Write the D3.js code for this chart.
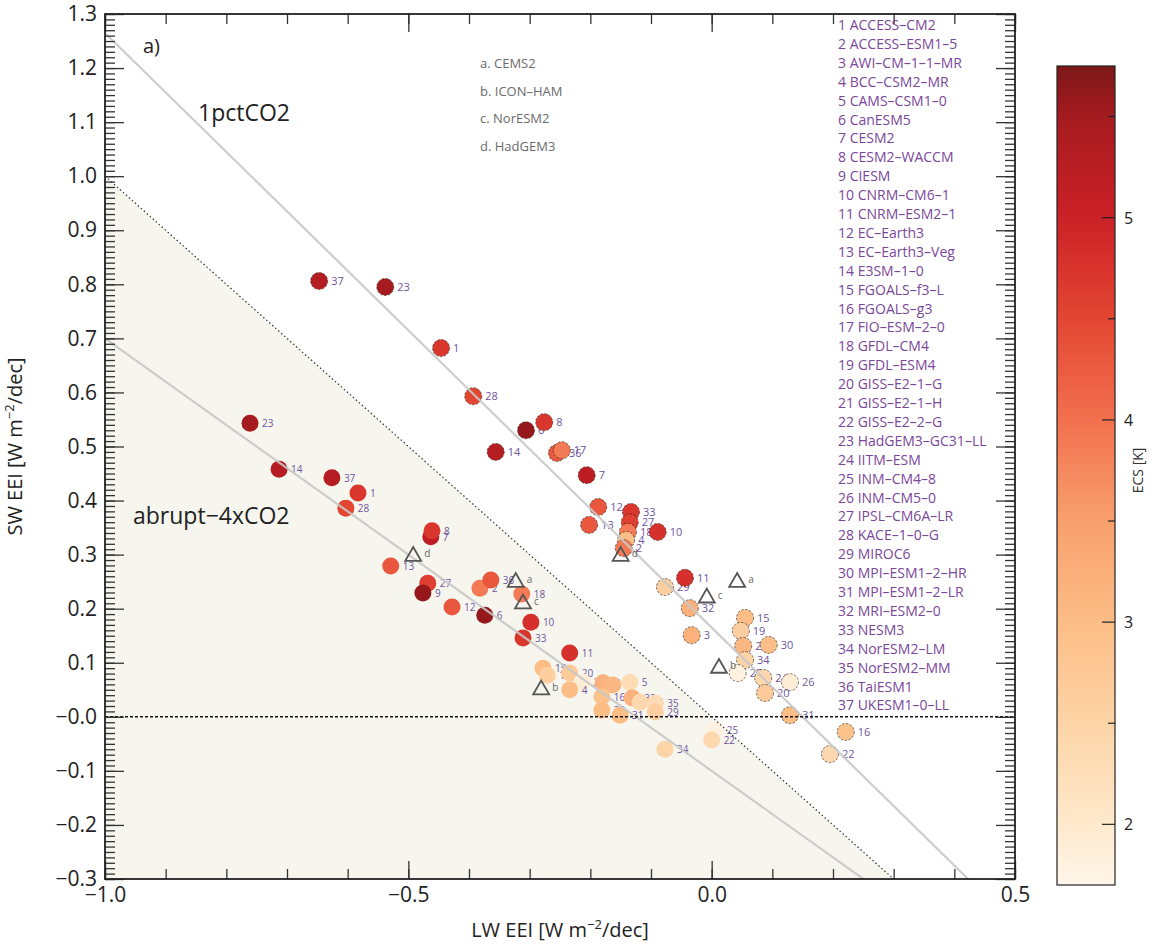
<!DOCTYPE html>
<html>
<head>
<meta charset="utf-8">
<script src="https://cdn.jsdelivr.net/npm/d3@7"></script>
<style>
body{margin:0;background:#fff}
text{font-family:"Open Sans",sans-serif}
</style>
</head>
<body>
<svg id="chart" width="1155" height="944"></svg>
<script>
// model names and ECS (K)
var models=["ACCESS–CM2","ACCESS–ESM1–5","AWI–CM–1–1–MR","BCC–CSM2–MR","CAMS–CSM1–0","CanESM5","CESM2","CESM2–WACCM","CIESM","CNRM–CM6–1","CNRM–ESM2–1","EC–Earth3","EC–Earth3–Veg","E3SM–1–0","FGOALS–f3–L","FGOALS–g3","FIO–ESM–2–0","GFDL–CM4","GFDL–ESM4","GISS–E2–1–G","GISS–E2–1–H","GISS–E2–2–G","HadGEM3–GC31–LL","IITM–ESM","INM–CM4–8","INM–CM5–0","IPSL–CM6A–LR","KACE–1–0–G","MIROC6","MPI–ESM1–2–HR","MPI–ESM1–2–LR","MRI–ESM2–0","NESM3","NorESM2–LM","NorESM2–MM","TaiESM1","UKESM1–0–LL"];
var ecs=[4.7,3.9,3.2,3.0,2.3,5.6,5.2,4.7,5.6,4.8,4.8,4.3,4.3,5.3,3.0,2.9,3.9,3.9,2.6,2.7,3.1,2.4,5.5,2.4,1.8,1.9,4.6,4.5,2.6,3.0,3.0,3.2,4.7,2.5,2.3,4.3,5.3];

// 1pctCO2 points
var pctId=[37,23,1,28,6,8,14,36,17,7,12,13,33,27,18,4,2,10,29,11,32,3,15,19,21,30,34,25,24,26,20,31,16,22];
var pctLW=[-0.647,-0.538,-0.446,-0.393,-0.306,-0.276,-0.356,-0.255,-0.247,-0.206,-0.187,-0.202,-0.133,-0.135,-0.138,-0.141,-0.145,-0.089,-0.077,-0.044,-0.036,-0.033,0.055,0.048,0.052,0.094,0.055,0.043,0.085,0.129,0.088,0.129,0.221,0.195];
var pctSW=[0.806,0.795,0.682,0.593,0.530,0.545,0.490,0.488,0.493,0.447,0.388,0.355,0.379,0.360,0.342,0.327,0.312,0.342,0.240,0.257,0.201,0.151,0.183,0.159,0.131,0.133,0.105,0.081,0.072,0.064,0.044,0.003,-0.028,-0.069];

// abrupt-4xCO2 points
var abrId=[23,14,37,1,28,13,7,8,27,9,12,2,36,6,18,10,33,11,15,19,20,26,4,3,21,5,16,30,31,32,24,35,29,34,25,22];
var abrLW=[-0.761,-0.713,-0.626,-0.583,-0.603,-0.529,-0.463,-0.461,-0.468,-0.476,-0.428,-0.382,-0.364,-0.374,-0.313,-0.298,-0.311,-0.234,-0.278,-0.271,-0.234,-0.214,-0.234,-0.179,-0.163,-0.135,-0.181,-0.181,-0.151,-0.131,-0.118,-0.093,-0.093,-0.077,0.005,0.000];
var abrSW=[0.543,0.458,0.442,0.414,0.386,0.279,0.333,0.344,0.247,0.229,0.203,0.238,0.253,0.188,0.227,0.175,0.146,0.118,0.090,0.077,0.081,0.064,0.050,0.063,0.059,0.064,0.037,0.012,0.003,0.035,0.027,0.025,0.009,-0.060,-0.024,-0.043];

// other models (triangles)
var otherTag=["a","b","c","d"];
var otherName=["CEMS2","ICON–HAM","NorESM2","HadGEM3"];
var pctOtherLW=[0.042,0.012,-0.008,-0.150];
var pctOtherSW=[0.249,0.090,0.220,0.297];
var abrOtherLW=[-0.323,-0.281,-0.311,-0.492];
var abrOtherSW=[0.249,0.050,0.209,0.297];

// fitted lines SW = a + b*LW
var fitA=[0.165,-0.10];
var fitB=[-1.10,-0.80];

var xTicks=[-1.0,-0.5,0.0,0.5];
var yTicks=d3.range(-3,14).map(function(i){return i/10;});
var cbTicks=[2,3,4,5];

var W=1155,H=944;
var mL=105,mR=1015,mT=14,mB=879;
var x=d3.scaleLinear().domain([-1,0.5]).range([mL,mR]);
var y=d3.scaleLinear().domain([-0.3,1.3]).range([mB,mT]);

var color=d3.scaleLinear()
    .domain([1.7,2.0,2.5,3.0,3.5,4.0,4.5,5.0,5.5,5.75])
    .range(["#fff6ea","#fee9cc","#fdd4a6","#fcbd86","#f8a06d","#f2704f","#e34732","#cb2027","#a61b1f","#7c1718"])
    .clamp(true);

var svg=d3.select("#chart");
svg.append("rect").attr("width",W).attr("height",H).attr("fill","#fff");

var defs=svg.append("defs");
defs.append("clipPath").attr("id","plotclip").append("rect")
    .attr("x",mL).attr("y",mT).attr("width",mR-mL).attr("height",mB-mT);

var plot=svg.append("g").attr("clip-path","url(#plotclip)");

// shaded area below SW = -LW
var line=d3.line().x(function(d){return x(d[0]);}).y(function(d){return y(d[1]);});
plot.append("path")
    .attr("d",line([[-1,1],[0.3,-0.3],[-1,-0.3]])+"Z")
    .attr("fill","#f6f6ef");

// points
function drawPoints(ids,lw,sw,fs,outlined){
    var g=plot.append("g");
    ids.forEach(function(id,i){
        var c=g.append("circle")
            .attr("cx",x(lw[i])).attr("cy",y(sw[i])).attr("r",8.5)
            .attr("fill",color(ecs[id-1]));
        if(outlined){
            c.attr("stroke","#2a1e18").attr("stroke-width",0.8)
             .attr("stroke-dasharray","2.5,1.5").attr("stroke-opacity",0.75);
        }
        g.append("text")
            .attr("x",x(lw[i])+12).attr("y",y(sw[i])+4)
            .attr("font-size",fs).attr("fill","#6e55a0")
            .text(id);
    });
}
drawPoints(abrId,abrLW,abrSW,10,false);
drawPoints(pctId,pctLW,pctSW,11,true);

// gray fit lines
fitA.forEach(function(a,k){
    plot.append("path")
        .attr("d",line([[-1,a-fitB[k]],[0.5,a+fitB[k]*0.5]]))
        .attr("stroke","#c8c8c8").attr("stroke-width",2.2).attr("stroke-opacity",0.9)
        .attr("fill","none");
});

// triangles
var tri=d3.symbol().type(d3.symbolTriangle).size(110);
function drawOthers(lw,sw){
    otherTag.forEach(function(t,i){
        plot.append("path").attr("d",tri())
            .attr("transform","translate("+x(lw[i])+","+y(sw[i])+")")
            .attr("fill","none").attr("stroke","#555").attr("stroke-width",1.8);
        plot.append("text")
            .attr("x",x(lw[i])+11).attr("y",y(sw[i])+1)
            .attr("font-size",10).attr("fill","#666").text(t);
    });
}
drawOthers(abrOtherLW,abrOtherSW);
drawOthers(pctOtherLW,pctOtherSW);

// zero line and SW=-LW line
plot.append("line")
    .attr("x1",mL).attr("x2",mR).attr("y1",y(0)).attr("y2",y(0))
    .attr("stroke","#111").attr("stroke-width",1.6).attr("stroke-dasharray","3,2");
plot.append("path")
    .attr("d",line([[-1,1],[0.5,-0.5]]))
    .attr("stroke","#333").attr("stroke-width",1.2).attr("stroke-dasharray","1.5,2.5")
    .attr("fill","none");

// axes
function fmt(d){
    if(Math.abs(d)<1e-9) return null;
    return (d<0?"−":"")+Math.abs(d).toFixed(1);
}
var yFmt=function(d){var s=fmt(d);return s===null?"−0.0":s;};
var xFmt=function(d){var s=fmt(d);return s===null?"0.0":s;};
var yMinor=d3.range(-30,131).map(function(i){return i/100;});
var xMinor=d3.range(-10,6).map(function(i){return i/10;});

function styleAxis(g){
    g.select(".domain").remove();
    g.selectAll("line").attr("stroke","#333").attr("stroke-width",1.3);
    g.selectAll("text").attr("font-family","Open Sans").attr("font-size",21).attr("fill","#222");
}

svg.append("g").attr("transform","translate("+mL+",0)")
    .call(d3.axisLeft(y).tickValues(yMinor).tickSizeInner(-10).tickSizeOuter(0).tickFormat(""))
    .call(styleAxis);
svg.append("g").attr("transform","translate("+mL+",0)")
    .call(d3.axisLeft(y).tickValues(yTicks).tickSizeInner(-19).tickSizeOuter(0).tickPadding(8).tickFormat(yFmt))
    .call(styleAxis);
svg.append("g").attr("transform","translate("+mR+",0)")
    .call(d3.axisRight(y).tickValues(yMinor).tickSizeInner(-10).tickSizeOuter(0).tickFormat(""))
    .call(styleAxis);
svg.append("g").attr("transform","translate("+mR+",0)")
    .call(d3.axisRight(y).tickValues(yTicks).tickSizeInner(-19).tickSizeOuter(0).tickFormat(""))
    .call(styleAxis);
svg.append("g").attr("transform","translate(0,"+mB+")")
    .call(d3.axisBottom(x).tickValues(xMinor).tickSizeInner(-10).tickSizeOuter(0).tickFormat(""))
    .call(styleAxis);
svg.append("g").attr("transform","translate(0,"+mB+")")
    .call(d3.axisBottom(x).tickValues(xTicks).tickSizeInner(-18).tickSizeOuter(0).tickPadding(8).tickFormat(xFmt))
    .call(styleAxis);
svg.append("g").attr("transform","translate(0,"+mT+")")
    .call(d3.axisTop(x).tickValues(xMinor).tickSizeInner(-10).tickSizeOuter(0).tickFormat(""))
    .call(styleAxis);
svg.append("g").attr("transform","translate(0,"+mT+")")
    .call(d3.axisTop(x).tickValues(xTicks).tickSizeInner(-18).tickSizeOuter(0).tickFormat(""))
    .call(styleAxis);

svg.append("rect")
    .attr("x",mL).attr("y",mT).attr("width",mR-mL).attr("height",mB-mT)
    .attr("fill","none").attr("stroke","#222").attr("stroke-width",1.8);

// axis titles
var xt=svg.append("text").attr("x",(mL+mR)/2).attr("y",937)
    .attr("text-anchor","middle").attr("font-size",20).attr("fill","#222");
xt.append("tspan").text("LW EEI [W m");
xt.append("tspan").attr("dy",-8).attr("font-size",13).text("−2");
xt.append("tspan").attr("dy",8).text("/dec]");

var yt=svg.append("text").attr("transform","translate(22,"+((mT+mB)/2)+") rotate(-90)")
    .attr("text-anchor","middle").attr("font-size",20).attr("fill","#222");
yt.append("tspan").text("SW EEI [W m");
yt.append("tspan").attr("dy",-8).attr("font-size",13).text("−2");
yt.append("tspan").attr("dy",8).text("/dec]");

// annotations
svg.append("text").attr("x",143).attr("y",53).attr("font-size",20).attr("fill","#222").text("a)");
svg.append("text").attr("x",198).attr("y",121).attr("font-size",23).attr("fill","#222").text("1pctCO2");
svg.append("text").attr("x",133).attr("y",524).attr("font-size",23).attr("fill","#222").text("abrupt−4xCO2");

// legend for other models
otherTag.forEach(function(t,i){
    svg.append("text").attr("x",480).attr("y",68+i*27.5)
        .attr("font-size",13).attr("fill","#6b6b6b")
        .text(t+". "+otherName[i]);
});

// model list
models.forEach(function(m,i){
    svg.append("text").attr("x",838).attr("y",30+i*18.9)
        .attr("font-size",14).attr("fill","#7b479a")
        .text((i+1)+" "+m);
});

// colorbar
var cb=d3.scaleLinear().domain([1.7,5.75]).range([885,66]);
var grad=defs.append("linearGradient").attr("id","ecsgrad")
    .attr("x1",0).attr("y1",1).attr("x2",0).attr("y2",0);
d3.range(0,41).forEach(function(i){
    var v=1.7+(5.75-1.7)*i/40;
    grad.append("stop").attr("offset",(i/40*100)+"%").attr("stop-color",color(v));
});
var cbL=1057,cbR=1115;
svg.append("rect").attr("x",cbL).attr("y",cb(5.75)).attr("width",cbR-cbL)
    .attr("height",cb(1.7)-cb(5.75)).attr("fill","url(#ecsgrad)")
    .attr("stroke","#222").attr("stroke-width",1.2);
d3.range(2,6,0.5).forEach(function(v){
    var major=Math.abs(v-Math.round(v))<1e-9;
    svg.append("line").attr("x1",cbR-(major?13:7)).attr("x2",cbR)
        .attr("y1",cb(v)).attr("y2",cb(v)).attr("stroke","#222").attr("stroke-width",1.2);
});
cbTicks.forEach(function(v){
    svg.append("text").attr("x",cbR+9).attr("y",cb(v)+6)
        .attr("font-size",16).attr("fill","#222").text(v);
});
svg.append("text").attr("transform","translate(1143,"+cb(3.75)+") rotate(-90)")
    .attr("text-anchor","middle").attr("font-size",14).attr("fill","#333").text("ECS [K]");
</script>
</body>
</html>
